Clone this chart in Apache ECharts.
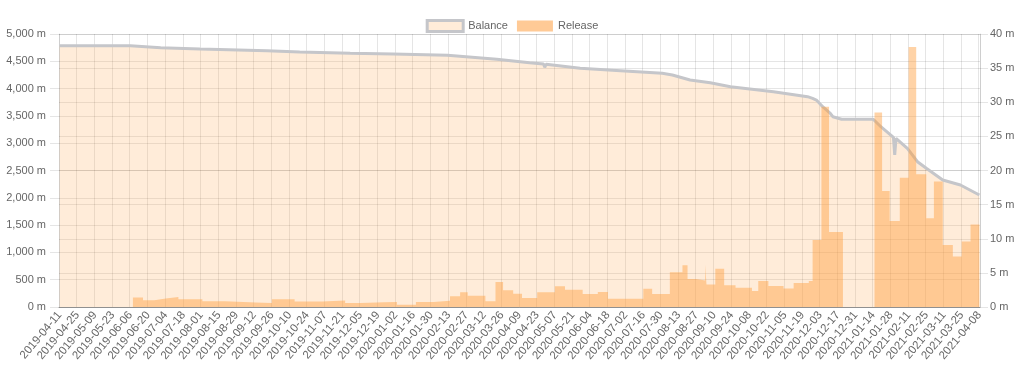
<!DOCTYPE html>
<html>
<head>
<meta charset="utf-8">
<script src="https://cdn.jsdelivr.net/npm/echarts@6/dist/echarts.min.js"></script>
<style>
html,body{margin:0;padding:0;background:#fff;}
#chart{width:1024px;height:369px;}
</style>
</head>
<body>
<div id="chart"></div>
<script>
// ---- data ----
const startDate = '2019-04-11';
const endDate = '2021-04-08';

const balanceDates = ['2019-04-11','2019-06-06','2019-06-30','2019-07-31','2019-09-22','2019-10-18','2019-11-11','2019-11-27','2019-12-31','2020-02-12','2020-03-22','2020-04-17','2020-04-28','2020-04-29','2020-04-30','2020-05-27','2020-06-28','2020-07-31','2020-08-08','2020-08-22','2020-09-07','2020-09-23','2020-10-27','2020-11-23','2020-11-27','2020-11-30','2020-12-05','2020-12-11','2020-12-13','2020-12-20','2021-01-14','2021-01-20','2021-01-30','2021-01-31','2021-02-01','2021-02-10','2021-02-18','2021-02-25','2021-03-10','2021-03-24','2021-04-08'];
const balanceValues = [4786,4786,4750,4725,4694,4670,4658,4647,4634,4610,4537,4474,4451,4390,4446,4372,4328,4280,4249,4158,4108,4035,3943,3852,3822,3791,3668,3548,3485,3438,3438,3302,3108,2784,3090,2907,2661,2540,2326,2234,2051];

const releaseDates = ['2019-04-11','2019-06-08','2019-06-16','2019-06-25','2019-07-04','2019-07-14','2019-08-02','2019-08-20','2019-09-13','2019-09-26','2019-10-14','2019-11-05','2019-11-23','2019-12-05','2019-12-24','2020-01-03','2020-01-18','2020-02-01','2020-02-14','2020-02-22','2020-02-28','2020-03-13','2020-03-21','2020-03-27','2020-04-04','2020-04-11','2020-04-23','2020-05-07','2020-05-15','2020-05-29','2020-06-10','2020-06-18','2020-07-16','2020-07-23','2020-08-06','2020-08-16','2020-08-20','2020-08-27','2020-09-03','2020-09-04','2020-09-11','2020-09-18','2020-09-27','2020-10-10','2020-10-15','2020-10-23','2020-11-04','2020-11-12','2020-11-24','2020-11-27','2020-12-04','2020-12-10','2020-12-21','2021-01-15','2021-01-21','2021-01-27','2021-02-04','2021-02-11','2021-02-17','2021-02-25','2021-03-03','2021-03-10','2021-03-18','2021-03-25','2021-04-01','2021-04-08'];
const releaseValues = [0,1.4,1.0,1.25,1.45,1.15,0.85,0.65,0.6,1.15,0.8,0.95,0.6,0.7,0.73,0.34,0.73,0.93,1.56,2.15,1.66,0.83,3.66,2.44,1.95,1.32,2.15,3.03,2.54,1.9,2.2,1.22,2.68,1.9,5.08,6.1,4.1,3.9,6.2,3.3,5.6,3.2,2.83,2.35,3.8,3.08,2.7,3.5,3.8,9.8,29.35,11.0,0,28.5,17.0,12.6,18.95,38.1,19.45,13.0,18.4,9.1,7.4,9.6,12.1,12.1];

const seriesNames = ['Balance', 'Release'];
const leftTicks = {min: 0, max: 5000, step: 500};
const rightTicks = {min: 0, max: 40, step: 5};

// ---- daily categories ----
const categories = [];
(function () {
  const s = Date.parse(startDate + 'T00:00:00Z');
  const e = Date.parse(endDate + 'T00:00:00Z');
  for (let t = s; t <= e; t += 86400000) categories.push(new Date(t).toISOString().slice(0, 10));
})();

const balanceData = balanceDates.map((d, i) => [d, balanceValues[i]]);
const releaseData = releaseDates.map((d, i) => [d, releaseValues[i]]);

const FONT = 'Liberation Sans, Arial, Helvetica, sans-serif';
const GRID = 'rgba(0,0,0,0.1)';
const BAL_FILL = 'rgba(255,159,64,0.2)';
const BAL_LINE = '#c5c6ca';
const REL_FILL = 'rgba(255,159,64,0.46)';
const REL_LEGEND = 'rgba(255,159,64,0.55)';

const chart = echarts.init(document.getElementById('chart'), null, {renderer: 'canvas'});
chart.setOption({
  animation: false,
  textStyle: {fontFamily: FONT},
  legend: {
    top: 14, left: 'center',
    itemWidth: 36, itemHeight: 11, itemGap: 9,
    textStyle: {color: '#666', fontSize: 11, fontFamily: FONT},
    data: [
      {name: seriesNames[0], icon: 'rect', itemStyle: {color: BAL_FILL, borderColor: BAL_LINE, borderWidth: 3}},
      {name: seriesNames[1], icon: 'rect', itemStyle: {color: REL_LEGEND, borderWidth: 0}}
    ]
  },
  grid: {left: 59, right: 44, top: 34, bottom: 62, containLabel: false},
  xAxis: {
    type: 'category',
    data: categories,
    boundaryGap: true,
    axisLine: {show: true, lineStyle: {color: 'rgba(0,0,0,0.3)'}},
    axisTick: {show: false},
    axisLabel: {interval: 13, rotate: 50, color: '#666', fontSize: 11.5, margin: 6, fontFamily: FONT},
    splitLine: {show: true, interval: 13, lineStyle: {color: GRID}}
  },
  yAxis: [
    {
      type: 'value', position: 'left',
      min: leftTicks.min, max: leftTicks.max, interval: leftTicks.step,
      axisLine: {show: true, lineStyle: {color: GRID}},
      axisTick: {show: true, length: 9, lineStyle: {color: GRID}},
      axisLabel: {color: '#666', fontSize: 11, margin: 13, fontFamily: FONT,
        formatter: v => v.toLocaleString('en-US') + ' m'},
      splitLine: {show: true, lineStyle: {color: GRID}}
    },
    {
      type: 'value', position: 'right',
      min: rightTicks.min, max: rightTicks.max, interval: rightTicks.step,
      axisLine: {show: true, lineStyle: {color: GRID}},
      axisTick: {show: true, length: 8, lineStyle: {color: GRID}},
      axisLabel: {color: '#666', fontSize: 11, margin: 10, fontFamily: FONT,
        formatter: v => v + ' m'},
      splitLine: {show: true, lineStyle: {color: GRID}}
    }
  ],
  series: [
    {
      name: seriesNames[0], type: 'line', yAxisIndex: 0,
      data: balanceData, showSymbol: false, symbol: 'none',
      lineStyle: {color: BAL_LINE, width: 3},
      itemStyle: {color: BAL_FILL, borderColor: BAL_LINE},
      areaStyle: {color: BAL_FILL, opacity: 1},
      z: 2
    },
    {
      name: seriesNames[1], type: 'line', yAxisIndex: 1, step: 'end',
      data: releaseData, showSymbol: false, symbol: 'none',
      lineStyle: {width: 0, color: REL_FILL},
      itemStyle: {color: REL_LEGEND},
      areaStyle: {color: REL_FILL, opacity: 1},
      z: 3
    }
  ]
});
</script>
</body>
</html>
